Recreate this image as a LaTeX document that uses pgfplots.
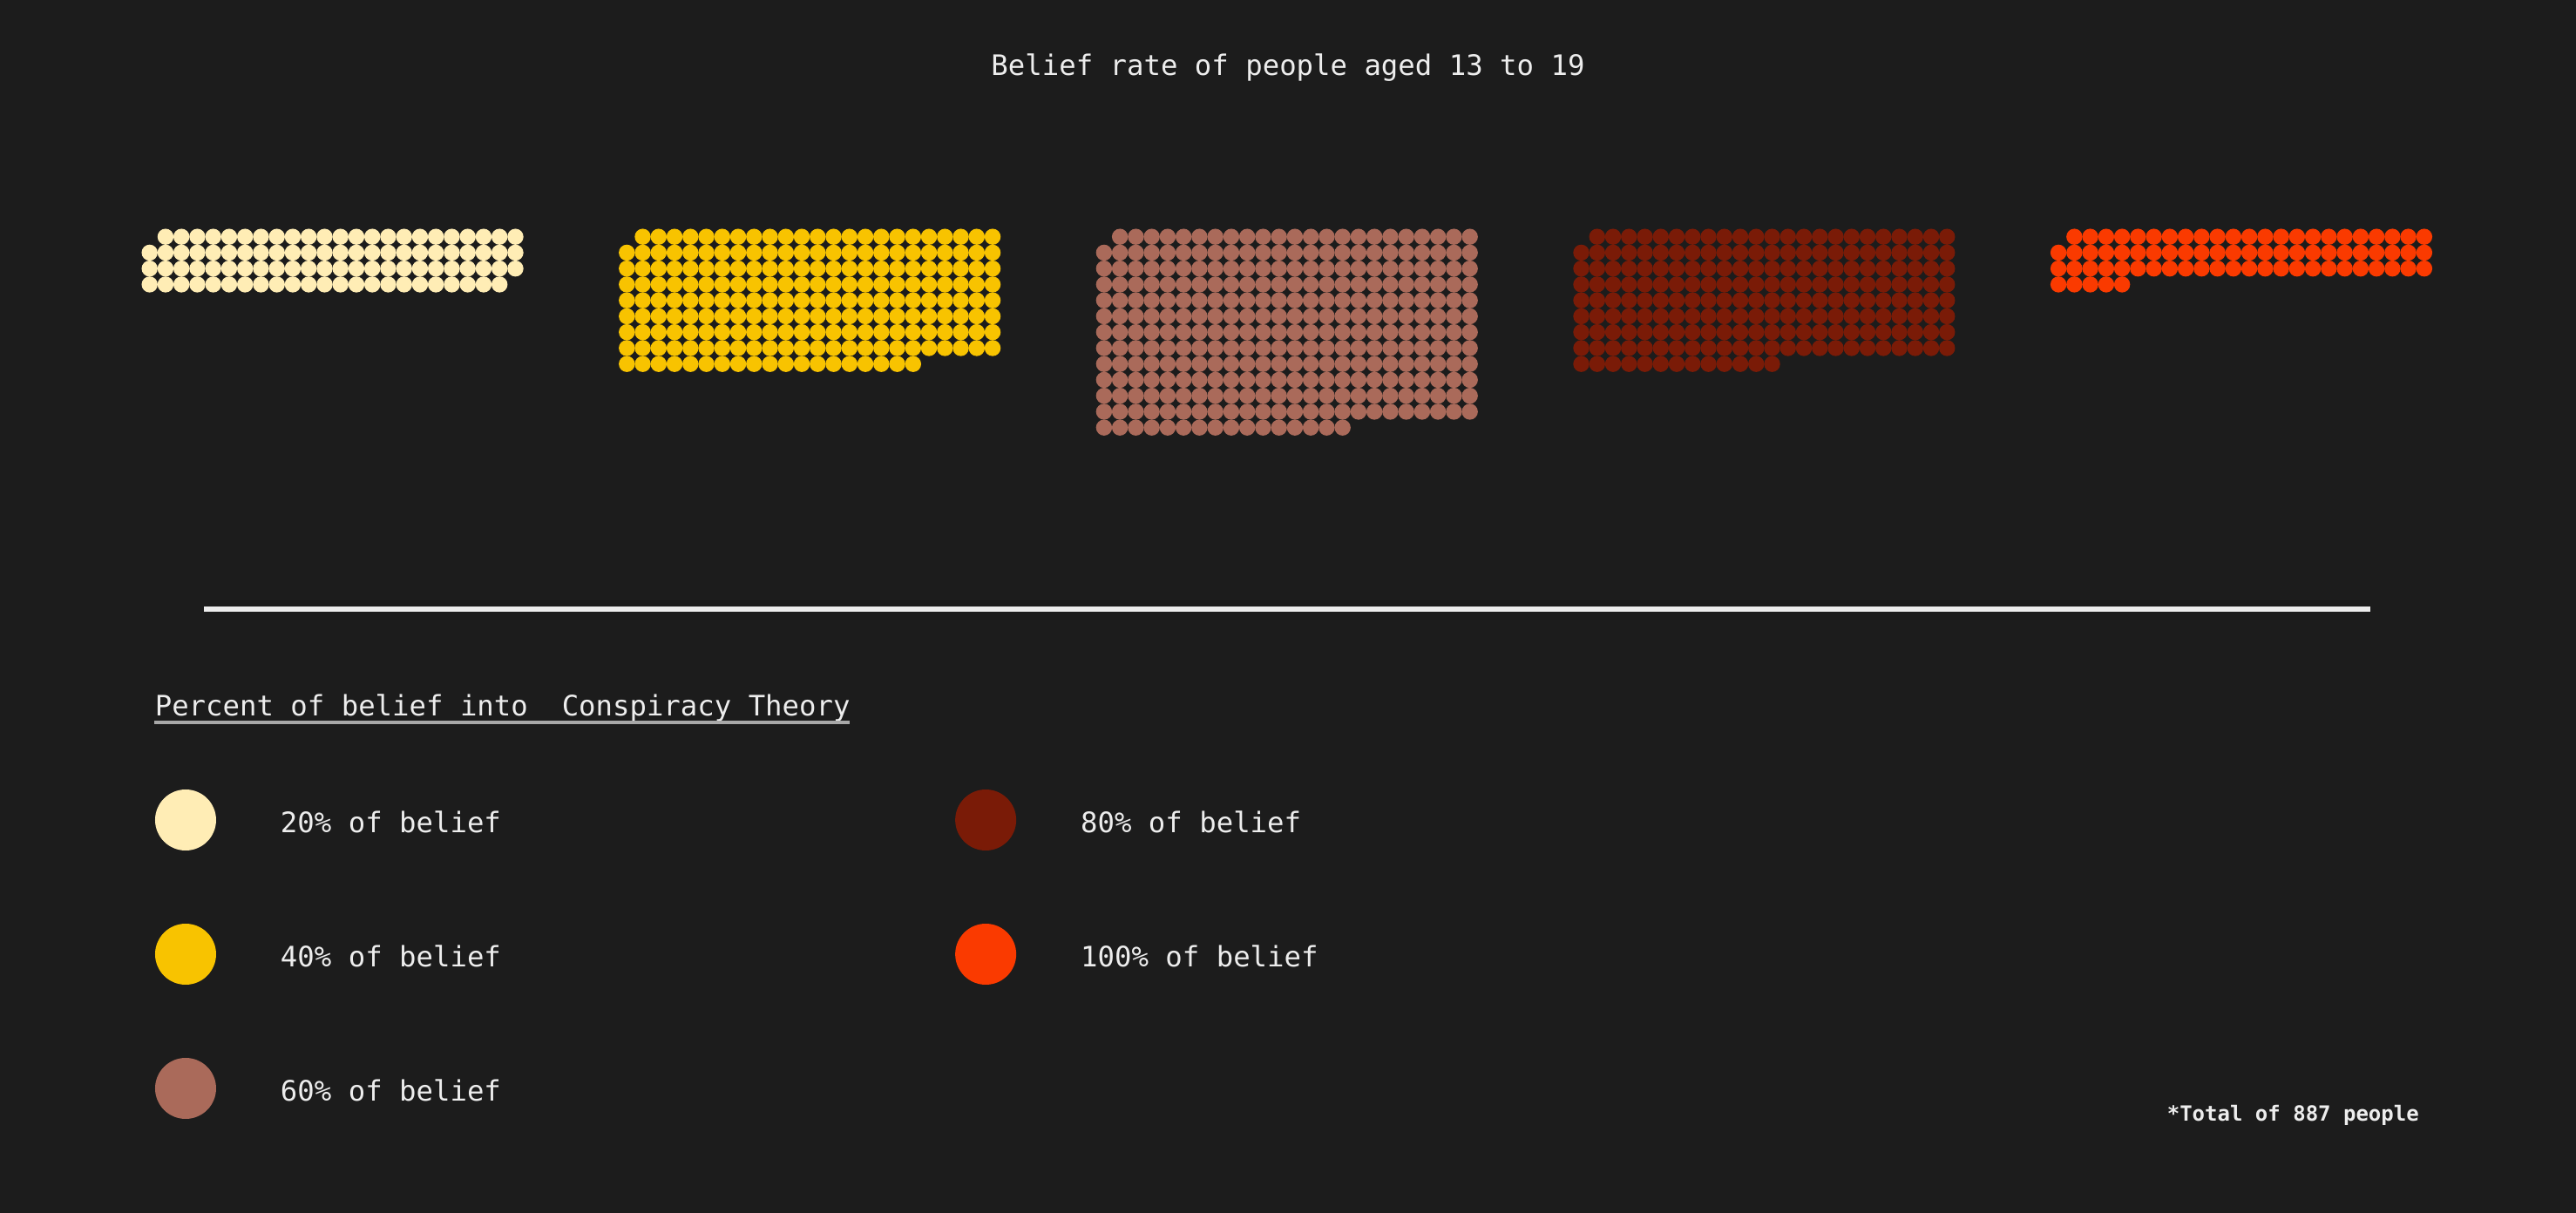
\documentclass[border=0pt]{standalone}
\usepackage{fontspec}
\setmainfont{DejaVu Sans Mono}
\usepackage{pgfplots}
\pgfplotsset{compat=1.18}
\definecolor{bg}{HTML}{1C1C1C}
\definecolor{txt}{HTML}{EDEDED}
\definecolor{uline}{HTML}{A8A8A8}
\definecolor{c1}{HTML}{FFEDB5}
\definecolor{c2}{HTML}{F8C300}
\definecolor{c3}{HTML}{AA6A5A}
\definecolor{c4}{HTML}{7A1B07}
\definecolor{c5}{HTML}{FA3A00}
\newcommand\mainf{\fontsize{8.08pt}{9.7pt}\selectfont}
\newcommand\smallf{\fontsize{6pt}{7.2pt}\selectfont}
\pgfplotsset{
  dots/.style={forget plot, only marks, mark=*, mark size=2.15pt, line width=0.3pt, color=#1,
    mark options={solid, fill=#1, draw=#1}},
}
\begin{document}
\begin{tikzpicture}
\fill[bg] (0,0) rectangle (739pt,348pt);
\begin{axis}[
  at={(0,0)}, anchor=south west,
  scale only axis, width=739pt, height=348pt,
  xmin=0, xmax=2956, ymin=0, ymax=1392,
  hide axis, clip=false,
  legend columns=2,
  legend cell align=left,
  legend image code/.code={\fill[#1, draw=none] (0pt,0pt) circle (8.75pt);},
  legend style={
    at={(axis description cs:0.060217,0.349138)}, anchor=north west,
    draw=none, fill=none, inner sep=0pt, outer sep=0pt,
    column sep=18.5pt, row sep=21pt,
    nodes={inner sep=0pt, outer sep=0pt, text=txt, font=\mainf, yshift=-1.2pt},
    /tikz/every even column/.append style={column sep=130.3pt},
  },
]
% cluster 1 : 94 people
\addplot[dots=c1, x filter/.expression={171.7+18.25*x}, y filter/.expression={1120.3-18.25*y}] coordinates {
(1,0)(2,0)(3,0)(4,0)(5,0)(6,0)(7,0)(8,0)(9,0)(10,0)(11,0)(12,0)(13,0)(14,0)(15,0)(16,0)(17,0)(18,0)(19,0)(20,0)(21,0)(22,0)(23,0)
(0,1)(1,1)(2,1)(3,1)(4,1)(5,1)(6,1)(7,1)(8,1)(9,1)(10,1)(11,1)(12,1)(13,1)(14,1)(15,1)(16,1)(17,1)(18,1)(19,1)(20,1)(21,1)(22,1)(23,1)
(0,2)(1,2)(2,2)(3,2)(4,2)(5,2)(6,2)(7,2)(8,2)(9,2)(10,2)(11,2)(12,2)(13,2)(14,2)(15,2)(16,2)(17,2)(18,2)(19,2)(20,2)(21,2)(22,2)(23,2)
(0,3)(1,3)(2,3)(3,3)(4,3)(5,3)(6,3)(7,3)(8,3)(9,3)(10,3)(11,3)(12,3)(13,3)(14,3)(15,3)(16,3)(17,3)(18,3)(19,3)(20,3)(21,3)(22,3)
};
% cluster 2 : 210 people
\addplot[dots=c2, x filter/.expression={719.3+18.25*x}, y filter/.expression={1120.3-18.25*y}] coordinates {
(1,0)(2,0)(3,0)(4,0)(5,0)(6,0)(7,0)(8,0)(9,0)(10,0)(11,0)(12,0)(13,0)(14,0)(15,0)(16,0)(17,0)(18,0)(19,0)(20,0)(21,0)(22,0)(23,0)
(0,1)(1,1)(2,1)(3,1)(4,1)(5,1)(6,1)(7,1)(8,1)(9,1)(10,1)(11,1)(12,1)(13,1)(14,1)(15,1)(16,1)(17,1)(18,1)(19,1)(20,1)(21,1)(22,1)(23,1)
(0,2)(1,2)(2,2)(3,2)(4,2)(5,2)(6,2)(7,2)(8,2)(9,2)(10,2)(11,2)(12,2)(13,2)(14,2)(15,2)(16,2)(17,2)(18,2)(19,2)(20,2)(21,2)(22,2)(23,2)
(0,3)(1,3)(2,3)(3,3)(4,3)(5,3)(6,3)(7,3)(8,3)(9,3)(10,3)(11,3)(12,3)(13,3)(14,3)(15,3)(16,3)(17,3)(18,3)(19,3)(20,3)(21,3)(22,3)(23,3)
(0,4)(1,4)(2,4)(3,4)(4,4)(5,4)(6,4)(7,4)(8,4)(9,4)(10,4)(11,4)(12,4)(13,4)(14,4)(15,4)(16,4)(17,4)(18,4)(19,4)(20,4)(21,4)(22,4)(23,4)
(0,5)(1,5)(2,5)(3,5)(4,5)(5,5)(6,5)(7,5)(8,5)(9,5)(10,5)(11,5)(12,5)(13,5)(14,5)(15,5)(16,5)(17,5)(18,5)(19,5)(20,5)(21,5)(22,5)(23,5)
(0,6)(1,6)(2,6)(3,6)(4,6)(5,6)(6,6)(7,6)(8,6)(9,6)(10,6)(11,6)(12,6)(13,6)(14,6)(15,6)(16,6)(17,6)(18,6)(19,6)(20,6)(21,6)(22,6)(23,6)
(0,7)(1,7)(2,7)(3,7)(4,7)(5,7)(6,7)(7,7)(8,7)(9,7)(10,7)(11,7)(12,7)(13,7)(14,7)(15,7)(16,7)(17,7)(18,7)(19,7)(20,7)(21,7)(22,7)(23,7)
(0,8)(1,8)(2,8)(3,8)(4,8)(5,8)(6,8)(7,8)(8,8)(9,8)(10,8)(11,8)(12,8)(13,8)(14,8)(15,8)(16,8)(17,8)(18,8)
};
% cluster 3 : 303 people
\addplot[dots=c3, x filter/.expression={1266.9+18.25*x}, y filter/.expression={1120.3-18.25*y}] coordinates {
(1,0)(2,0)(3,0)(4,0)(5,0)(6,0)(7,0)(8,0)(9,0)(10,0)(11,0)(12,0)(13,0)(14,0)(15,0)(16,0)(17,0)(18,0)(19,0)(20,0)(21,0)(22,0)(23,0)
(0,1)(1,1)(2,1)(3,1)(4,1)(5,1)(6,1)(7,1)(8,1)(9,1)(10,1)(11,1)(12,1)(13,1)(14,1)(15,1)(16,1)(17,1)(18,1)(19,1)(20,1)(21,1)(22,1)(23,1)
(0,2)(1,2)(2,2)(3,2)(4,2)(5,2)(6,2)(7,2)(8,2)(9,2)(10,2)(11,2)(12,2)(13,2)(14,2)(15,2)(16,2)(17,2)(18,2)(19,2)(20,2)(21,2)(22,2)(23,2)
(0,3)(1,3)(2,3)(3,3)(4,3)(5,3)(6,3)(7,3)(8,3)(9,3)(10,3)(11,3)(12,3)(13,3)(14,3)(15,3)(16,3)(17,3)(18,3)(19,3)(20,3)(21,3)(22,3)(23,3)
(0,4)(1,4)(2,4)(3,4)(4,4)(5,4)(6,4)(7,4)(8,4)(9,4)(10,4)(11,4)(12,4)(13,4)(14,4)(15,4)(16,4)(17,4)(18,4)(19,4)(20,4)(21,4)(22,4)(23,4)
(0,5)(1,5)(2,5)(3,5)(4,5)(5,5)(6,5)(7,5)(8,5)(9,5)(10,5)(11,5)(12,5)(13,5)(14,5)(15,5)(16,5)(17,5)(18,5)(19,5)(20,5)(21,5)(22,5)(23,5)
(0,6)(1,6)(2,6)(3,6)(4,6)(5,6)(6,6)(7,6)(8,6)(9,6)(10,6)(11,6)(12,6)(13,6)(14,6)(15,6)(16,6)(17,6)(18,6)(19,6)(20,6)(21,6)(22,6)(23,6)
(0,7)(1,7)(2,7)(3,7)(4,7)(5,7)(6,7)(7,7)(8,7)(9,7)(10,7)(11,7)(12,7)(13,7)(14,7)(15,7)(16,7)(17,7)(18,7)(19,7)(20,7)(21,7)(22,7)(23,7)
(0,8)(1,8)(2,8)(3,8)(4,8)(5,8)(6,8)(7,8)(8,8)(9,8)(10,8)(11,8)(12,8)(13,8)(14,8)(15,8)(16,8)(17,8)(18,8)(19,8)(20,8)(21,8)(22,8)(23,8)
(0,9)(1,9)(2,9)(3,9)(4,9)(5,9)(6,9)(7,9)(8,9)(9,9)(10,9)(11,9)(12,9)(13,9)(14,9)(15,9)(16,9)(17,9)(18,9)(19,9)(20,9)(21,9)(22,9)(23,9)
(0,10)(1,10)(2,10)(3,10)(4,10)(5,10)(6,10)(7,10)(8,10)(9,10)(10,10)(11,10)(12,10)(13,10)(14,10)(15,10)(16,10)(17,10)(18,10)(19,10)(20,10)(21,10)(22,10)(23,10)
(0,11)(1,11)(2,11)(3,11)(4,11)(5,11)(6,11)(7,11)(8,11)(9,11)(10,11)(11,11)(12,11)(13,11)(14,11)(15,11)(16,11)(17,11)(18,11)(19,11)(20,11)(21,11)(22,11)(23,11)
(0,12)(1,12)(2,12)(3,12)(4,12)(5,12)(6,12)(7,12)(8,12)(9,12)(10,12)(11,12)(12,12)(13,12)(14,12)(15,12)
};
% cluster 4 : 204 people
\addplot[dots=c4, x filter/.expression={1814.5+18.25*x}, y filter/.expression={1120.3-18.25*y}] coordinates {
(1,0)(2,0)(3,0)(4,0)(5,0)(6,0)(7,0)(8,0)(9,0)(10,0)(11,0)(12,0)(13,0)(14,0)(15,0)(16,0)(17,0)(18,0)(19,0)(20,0)(21,0)(22,0)(23,0)
(0,1)(1,1)(2,1)(3,1)(4,1)(5,1)(6,1)(7,1)(8,1)(9,1)(10,1)(11,1)(12,1)(13,1)(14,1)(15,1)(16,1)(17,1)(18,1)(19,1)(20,1)(21,1)(22,1)(23,1)
(0,2)(1,2)(2,2)(3,2)(4,2)(5,2)(6,2)(7,2)(8,2)(9,2)(10,2)(11,2)(12,2)(13,2)(14,2)(15,2)(16,2)(17,2)(18,2)(19,2)(20,2)(21,2)(22,2)(23,2)
(0,3)(1,3)(2,3)(3,3)(4,3)(5,3)(6,3)(7,3)(8,3)(9,3)(10,3)(11,3)(12,3)(13,3)(14,3)(15,3)(16,3)(17,3)(18,3)(19,3)(20,3)(21,3)(22,3)(23,3)
(0,4)(1,4)(2,4)(3,4)(4,4)(5,4)(6,4)(7,4)(8,4)(9,4)(10,4)(11,4)(12,4)(13,4)(14,4)(15,4)(16,4)(17,4)(18,4)(19,4)(20,4)(21,4)(22,4)(23,4)
(0,5)(1,5)(2,5)(3,5)(4,5)(5,5)(6,5)(7,5)(8,5)(9,5)(10,5)(11,5)(12,5)(13,5)(14,5)(15,5)(16,5)(17,5)(18,5)(19,5)(20,5)(21,5)(22,5)(23,5)
(0,6)(1,6)(2,6)(3,6)(4,6)(5,6)(6,6)(7,6)(8,6)(9,6)(10,6)(11,6)(12,6)(13,6)(14,6)(15,6)(16,6)(17,6)(18,6)(19,6)(20,6)(21,6)(22,6)(23,6)
(0,7)(1,7)(2,7)(3,7)(4,7)(5,7)(6,7)(7,7)(8,7)(9,7)(10,7)(11,7)(12,7)(13,7)(14,7)(15,7)(16,7)(17,7)(18,7)(19,7)(20,7)(21,7)(22,7)(23,7)
(0,8)(1,8)(2,8)(3,8)(4,8)(5,8)(6,8)(7,8)(8,8)(9,8)(10,8)(11,8)(12,8)
};
% cluster 5 : 76 people
\addplot[dots=c5, x filter/.expression={2362.1+18.25*x}, y filter/.expression={1120.3-18.25*y}] coordinates {
(1,0)(2,0)(3,0)(4,0)(5,0)(6,0)(7,0)(8,0)(9,0)(10,0)(11,0)(12,0)(13,0)(14,0)(15,0)(16,0)(17,0)(18,0)(19,0)(20,0)(21,0)(22,0)(23,0)
(0,1)(1,1)(2,1)(3,1)(4,1)(5,1)(6,1)(7,1)(8,1)(9,1)(10,1)(11,1)(12,1)(13,1)(14,1)(15,1)(16,1)(17,1)(18,1)(19,1)(20,1)(21,1)(22,1)(23,1)
(0,2)(1,2)(2,2)(3,2)(4,2)(5,2)(6,2)(7,2)(8,2)(9,2)(10,2)(11,2)(12,2)(13,2)(14,2)(15,2)(16,2)(17,2)(18,2)(19,2)(20,2)(21,2)(22,2)(23,2)
(0,3)(1,3)(2,3)(3,3)(4,3)
};
% legend (order gives two columns: 20/40/60 left, 80/100 right)
\addlegendimage{fill=c1}\addlegendentry{20\% of belief}
\addlegendimage{fill=c4}\addlegendentry{80\% of belief}
\addlegendimage{fill=c2}\addlegendentry{40\% of belief}
\addlegendimage{fill=c5}\addlegendentry{100\% of belief}
\addlegendimage{fill=c3}\addlegendentry{60\% of belief}
% texts and rule
\node[anchor=base, text=txt, font=\mainf, inner sep=0pt] at (axis cs:1478,1305) {Belief rate of people aged 13 to 19};
\draw[txt, line width=1.4pt] (axis cs:234,693) -- (axis cs:2720,693);
\node[anchor=base west, text=txt, font=\mainf, inner sep=0pt] at (axis cs:177,570) {Percent of belief into~~Conspiracy Theory};
\draw[uline, line width=0.8pt] (axis cs:177,563) -- (axis cs:975,563);
\node[anchor=base west, text=txt, font=\smallf\bfseries, inner sep=0pt] at (axis cs:2486,105) {*Total of 887 people};
\end{axis}
\pgfresetboundingbox
\path (0,0) rectangle (739pt,348pt);
\end{tikzpicture}
\end{document}
